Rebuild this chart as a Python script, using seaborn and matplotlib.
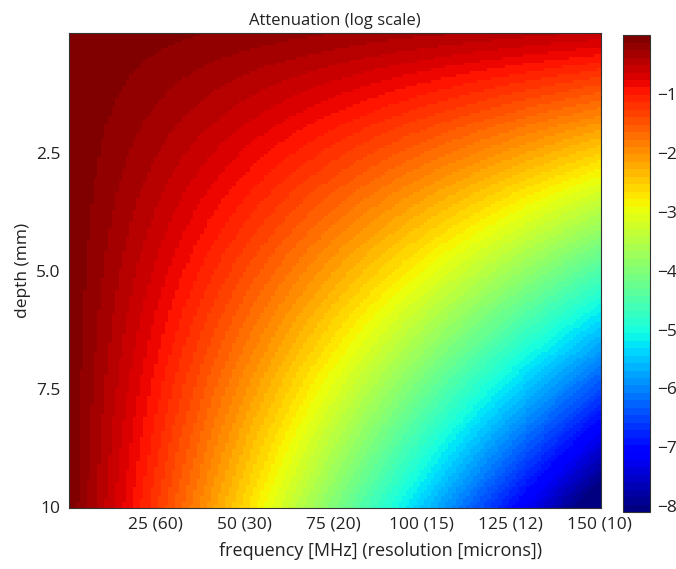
import numpy as np
import pandas as pd
import seaborn as sns
import matplotlib
matplotlib.use("Agg")
import matplotlib.pyplot as plt

# axes of the map
freq_mhz = np.arange(1, 151)              # 1 .. 150 MHz
depth_mm = np.linspace(0, 10, 161)        # 0 .. 10 mm

# tick marks / labels
freq_ticks = [25, 50, 75, 100, 125, 150]
res_microns = [60, 30, 20, 15, 12, 10]
depth_ticks = [2.5, 5.0, 7.5, 10.0]
depth_labels = ["2.5", "5.0", "7.5", "10"]
cbar_ticks = [-1, -2, -3, -4, -5, -6, -7, -8]

# attenuation model (f^n * (d + d0))
ALPHA = 0.00369
POWER = 1.07
D0 = 0.7
VMIN, VMAX = -8.1, 0.0

vals = -ALPHA * np.power(freq_mhz[None, :], POWER) * (depth_mm[:, None] + D0)
df = pd.DataFrame(vals, index=depth_mm, columns=freq_mhz)

sns.set_style("white")
plt.rcParams["font.family"] = ["Open Sans", "DejaVu Sans"]
plt.rcParams["axes.unicode_minus"] = True

fig = plt.figure(figsize=(6.76, 5.69), dpi=100)
ax = fig.add_axes([0.102, 0.107, 0.787, 0.835])
cax = fig.add_axes([0.9216, 0.100, 0.040, 0.838])

jet64 = matplotlib.colormaps["jet"].resampled(64)
sns.heatmap(df, ax=ax, cbar_ax=cax, cmap=jet64, vmin=VMIN, vmax=VMAX,
            xticklabels=False, yticklabels=False, rasterized=True)

xpos = [list(freq_mhz).index(f) + 0.5 for f in freq_ticks]
ypos = [int(np.argmin(np.abs(depth_mm - d))) + 0.5 for d in depth_ticks]
ax.set_xticks(xpos)
ax.set_xticklabels(["{} ({})".format(f, r) for f, r in zip(freq_ticks, res_microns)],
                   rotation=0, fontsize=12.5, color="#222222")
ax.set_yticks(ypos)
ax.set_yticklabels(depth_labels, rotation=0, fontsize=12.5, color="#222222")
ax.tick_params(direction="in", top=True, right=True, bottom=True, left=True,
               length=4, width=0.8, color="#333333", pad=6)
for s in ax.spines.values():
    s.set_visible(True)
    s.set_color("#333333")
    s.set_linewidth(0.8)

ax.set_xlabel("frequency [MHz] (resolution [microns])", fontsize=13, color="#222222")
ax.xaxis.set_label_coords(0.586, -0.072)
ax.set_ylabel("depth (mm)", fontsize=12.5, color="#222222", labelpad=4)
ax.set_title("Attenuation (log scale)", fontsize=12, color="#222222", pad=6)

cb = ax.collections[0].colorbar
cb.set_ticks(cbar_ticks)
cb.outline.set_visible(True)
cb.outline.set_linewidth(0.8)
cb.outline.set_edgecolor("#333333")
cax.tick_params(direction="in", left=True, right=True, length=4, width=0.8,
                color="#333333", labelsize=12.5, labelcolor="#222222", pad=5)

fig.savefig("out.png", dpi=100)
